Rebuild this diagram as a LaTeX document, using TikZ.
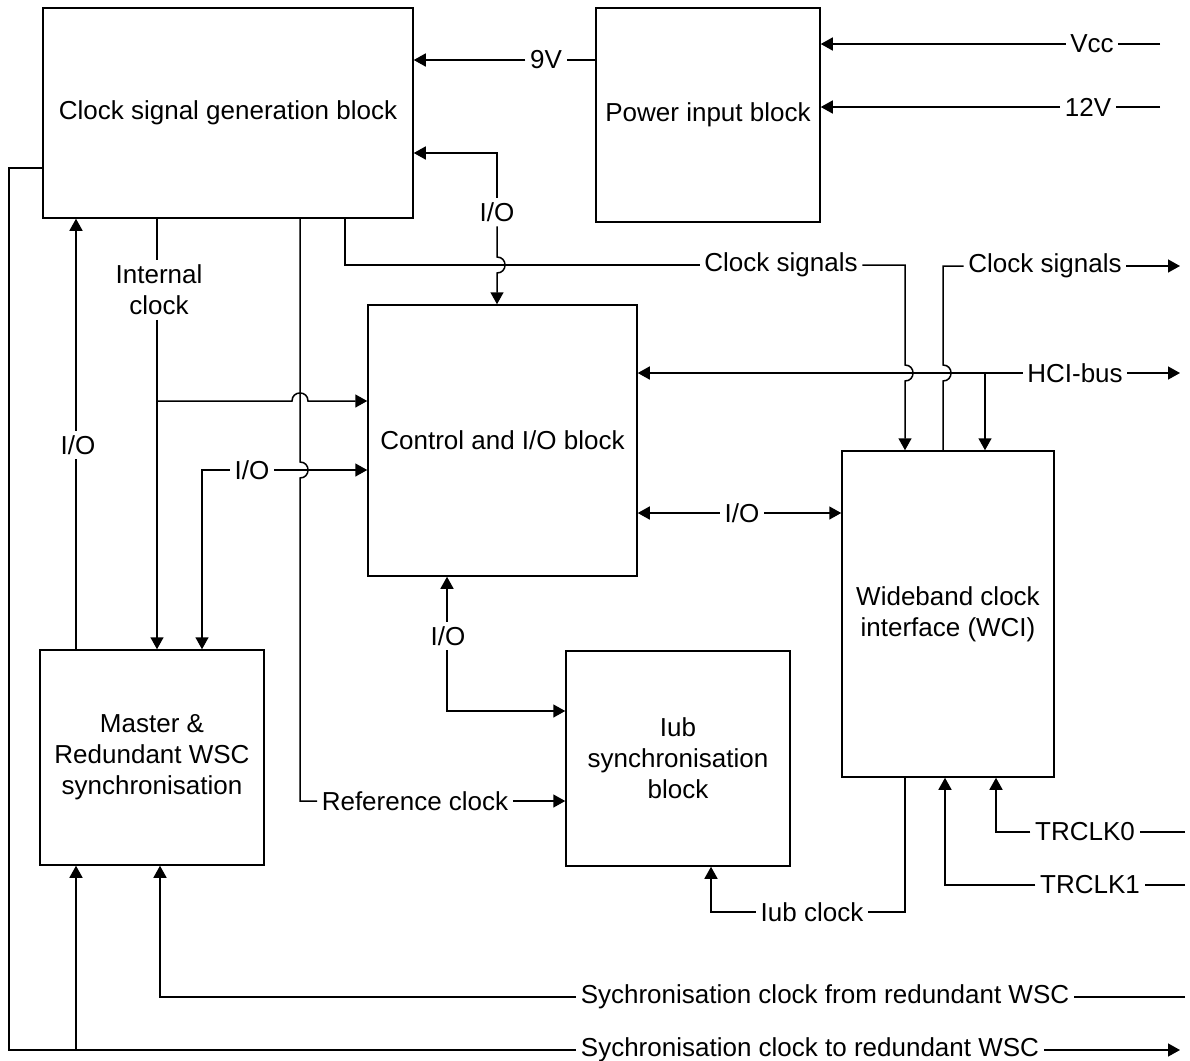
\documentclass[tikz,border=0pt]{standalone}
\usepackage{fontspec}
\setmainfont{Liberation Sans}
\usetikzlibrary{arrows.meta}

\begin{document}
\begin{tikzpicture}[
    x = 0.5pt, y = -0.5pt, % pixel grid, y runs downwards
    > = {Triangle[length=6pt, width=6.5pt]}, % arrow head style
    line width = 0.75pt, % line style
    font = \fontsize{13}{15.5}\selectfont
  ]

  \tikzstyle{block}=[rectangle, draw, align=center, inner sep=0pt]
  \tikzstyle{lbl}=[inner sep=2pt, align=center]

  \useasboundingbox (0,0) rectangle (1190,1061);

  % blocks
  \node[block, minimum width=185pt, minimum height=105pt] (cg) at (228,113) {Clock\ signal\ generation\ block};
  \node[block, minimum width=112pt, minimum height=107pt] (pw) at (708,115) {Power input block};
  \node[block, minimum width=134.5pt, minimum height=135.5pt] (ctl) at (502.5,440.5) {Control and I/O block};
  \node[block, minimum width=106pt, minimum height=163pt] (wci) at (948,614) {Wideband clock\\interface (WCI)};
  \node[block, minimum width=112pt, minimum height=107.5pt] (msr) at (152,757.5) {Master \&\\Redundant WSC\\synchronisation};
  \node[block, minimum width=112pt, minimum height=107.5pt] (iub) at (678,758.5) {Iub\\synchronisation\\block};

  % signal labels
  \node[lbl] (v9) at (546,60) {9V};
  \node[lbl] (vcc) at (1092,44) {Vcc};
  \node[lbl] (v12) at (1088,107) {12V};
  \node[lbl] (iotop) at (497,212) {I/O};
  \node[lbl] (cs1) at (781,265) {Clock signals};
  \node[lbl] (cs2) at (1045,266) {Clock signals};
  \node[lbl] (hci) at (1075,373) {HCI-bus};
  \node[lbl] (ic) at (159,290) {Internal\\clock};
  \node[lbl] (io3) at (252,470) {I/O};
  \node[lbl] (io4) at (78,445) {I/O};
  \node[lbl] (io2) at (742,513) {I/O};
  \node[lbl] (io5) at (448,636) {I/O};
  \node[lbl] (rc) at (415,801) {Reference clock};
  \node[lbl] (ib) at (812,912) {Iub clock};
  \node[lbl] (t0) at (1085,832) {TRCLK0};
  \node[lbl] (t1) at (1090,885) {TRCLK1};
  \node[lbl] (sf) at (825,997) {Sychronisation clock from redundant WSC};
  \node[lbl] (st) at (810,1050) {Sychronisation clock to redundant WSC};

  % free ends on the right
  \coordinate (vccin) at (1160,44);
  \coordinate (v12in) at (1160,107);
  \coordinate (csout) at (1180,266);
  \coordinate (hciout) at (1180,373);
  \coordinate (t0in) at (1185,832);
  \coordinate (t1in) at (1185,885);
  \coordinate (sfin) at (1185,997);
  \coordinate (stout) at (1180,1050);

  % power
  \draw (pw.west |- v9) -- (v9);
  \draw[->] (v9) -- (cg.east |- v9);
  \draw (vccin) -- (vcc);
  \draw[->] (vcc) -- (pw.east |- vcc);
  \draw (v12in) -- (v12);
  \draw[->] (v12) -- (pw.east |- v12);

  % clock block <-> control block
  \draw[->] (iotop) |- (cg.east |- 0,153);
  \draw[->] (iotop) -- (497,257) .. controls +(10.7,0) and +(10.7,0) .. (497,273) -- (iotop |- ctl.north);

  % clock signals
  \draw (cg.south -| 345,0) |- (cs1);
  \draw[->] (cs1) -| (905,365) .. controls +(10.7,0) and +(10.7,0) .. (905,381) -- (wci.north -| 905,0);
  \draw (wci.north -| 943,0) -- (943,381) .. controls +(10.7,0) and +(10.7,0) .. (943,365) |- (cs2);
  \draw[->] (cs2) -- (csout);

  % HCI bus
  \draw[<-] (ctl.east |- hci) -- (hci);
  \draw[->] (hci) -- (hciout);
  \draw[->] (hci -| 985,0) -- (wci.north -| 985,0);
  \draw[<-] (ctl.east |- io2) -- (io2);
  \draw[->] (io2) -- (wci.west |- io2);

  % internal clock
  \draw (cg.south -| 157,0) -- (ic.north -| 157,0);
  \draw[->] (ic.south -| 157,0) -- (msr.north -| 157,0);
  \draw[->] (157,401) -- (292,401) .. controls +(0,-10.7) and +(0,-10.7) .. (308,401) -- (ctl.west |- 0,401);

  % reference clock
  \draw (cg.south -| 300,0) -- (300,462) .. controls +(10.7,0) and +(10.7,0) .. (300,478) |- (rc);
  \draw[->] (rc) -- (iub.west |- rc);

  % I/O to master block
  \draw[<-] (ctl.west |- io3) -- (io3);
  \draw[->] (io3) -| (msr.north -| 202,0);
  \draw (msr.north -| 76,0) -- (io4.south -| 76,0);
  \draw[->] (io4.north -| 76,0) -- (cg.south -| 76,0);

  % I/O to Iub block
  \draw[<-] (ctl.south -| 447,0) -- (io5.north -| 447,0);
  \draw[->] (io5.south -| 447,0) |- (iub.west |- 0,711);
  \draw (wci.south -| 905,0) |- (ib);
  \draw[->] (ib) -| (iub.south -| 711,0);

  % TRCLK inputs
  \draw (t0in) -- (t0);
  \draw[->] (t0) -| (wci.south -| 996,0);
  \draw (t1in) -- (t1);
  \draw[->] (t1) -| (wci.south -| 945,0);

  % redundant WSC
  \draw (sfin) -- (sf);
  \draw[->] (sf) -| (msr.south -| 160,0);
  \draw (cg.west |- 0,168) -- (9,168) |- (st);
  \draw[->] (st) -- (stout);
  \draw[->] (st -| 76,0) -- (msr.south -| 76,0);

\end{tikzpicture}
\end{document}
